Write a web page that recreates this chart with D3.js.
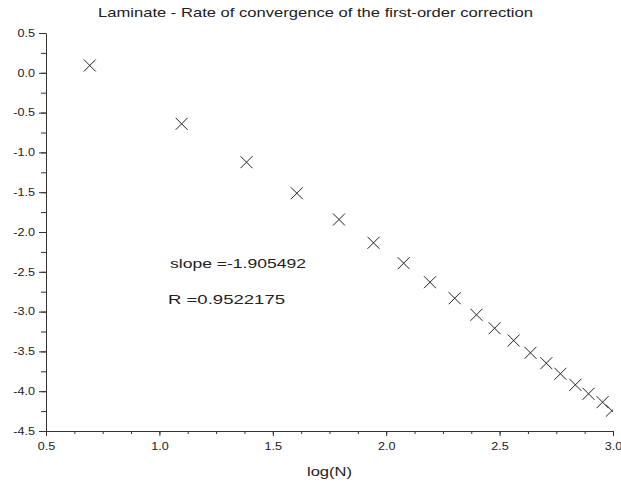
<!DOCTYPE html>
<html>
<head>
<meta charset="utf-8">
<script src="https://cdn.jsdelivr.net/npm/d3@7"></script>
<style>
  body { margin: 0; background: #fff; }
  svg { display: block; font-family: "Liberation Sans", Arial, sans-serif; }
</style>
</head>
<body>
<svg id="svg" width="621" height="483"></svg>
<script>
// log(N) vs log(error)
let logN = [0.693, 1.098, 1.384, 1.606, 1.792, 1.944, 2.077, 2.193, 2.302, 2.398,
            2.478, 2.562, 2.636, 2.706, 2.768, 2.834, 2.892, 2.954, 2.995];
let logErr = [0.092, -0.641, -1.123, -1.513, -1.843, -2.136, -2.392, -2.631, -2.832, -3.040,
              -3.209, -3.363, -3.518, -3.648, -3.781, -3.920, -4.033, -4.138, -4.245];
let xTicks = [0.5, 1.0, 1.5, 2.0, 2.5, 3.0];
let yTicks = [0.5, 0.0, -0.5, -1.0, -1.5, -2.0, -2.5, -3.0, -3.5, -4.0, -4.5];
let title = 'Laminate - Rate of convergence of the first-order correction';
let notes = ['slope =-1.905492', 'R =0.9522175'];

let svg = d3.select('#svg');
let m = { left: 46, right: 613, top: 33, bottom: 431 };
let axisColor = '#333';

let x = d3.scaleLinear().domain([0.5, 3.0]).range([m.left, m.right]);
let y = d3.scaleLinear().domain([-4.5, 0.5]).range([m.bottom, m.top]);

// minor ticks
let xMinor = d3.range(0, 21).map(i => 0.5 + i * 0.125);
let yMinor = d3.range(0, 21).map(i => -4.5 + i * 0.25);

svg.append('g')
    .attr('transform', `translate(0 ${m.bottom})`)
    .call(d3.axisBottom(x).tickValues(xMinor).tickSize(3).tickFormat(''))
    .call(g => g.select('.domain').remove())
    .selectAll('line').attr('stroke', axisColor);
svg.append('g')
    .attr('transform', `translate(${m.left} 0)`)
    .call(d3.axisLeft(y).tickValues(yMinor).tickSize(5).tickFormat(''))
    .call(g => g.select('.domain').remove())
    .selectAll('line').attr('stroke', axisColor);

// major ticks + labels
let xAxis = svg.append('g')
    .attr('transform', `translate(0 ${m.bottom})`)
    .call(d3.axisBottom(x).tickValues(xTicks).tickSize(5).tickSizeOuter(0).tickPadding(7).tickFormat(d3.format('.1f')));
let yAxis = svg.append('g')
    .attr('transform', `translate(${m.left} 0)`)
    .call(d3.axisLeft(y).tickValues(yTicks).tickSize(7).tickSizeOuter(0).tickPadding(4).tickFormat(d3.format('.1f')));
yAxis.selectAll('text').text(d => d3.format('.1f')(d).replace('−', '-'));
[xAxis, yAxis].forEach(a => {
    a.select('.domain').attr('stroke', axisColor);
    a.selectAll('line').attr('stroke', axisColor);
    a.selectAll('text').attr('fill', '#222').style('font-size', '10.5px')
        .style('font-family', '"Liberation Sans", Arial, sans-serif')
        .attr('textLength', function() { return this.getComputedTextLength() * 1.2; })
        .attr('lengthAdjust', 'spacingAndGlyphs');
});

// markers, clipped to plot box
svg.append('clipPath').attr('id', 'clip')
    .append('rect').attr('x', m.left).attr('y', m.top - 10).attr('width', m.right - m.left).attr('height', m.bottom - m.top + 10);
let r = 6;
let marks = svg.append('g').attr('clip-path', 'url(#clip)');
marks.selectAll('path')
    .data(logN.map((d, i) => [d, logErr[i]]))
    .join('path')
    .attr('d', d => {
        let cx = x(d[0]), cy = y(d[1]);
        return `M${cx - r},${cy - r}L${cx + r},${cy + r}M${cx - r},${cy + r}L${cx + r},${cy - r}`;
    })
    .attr('stroke', '#222')
    .attr('stroke-width', 1)
    .attr('fill', 'none');

// texts: reference font is wider than Arial, stretch glyphs to fit
function label(str, px, py, len, anchor) {
    return svg.append('text')
        .attr('x', px).attr('y', py)
        .attr('text-anchor', anchor || 'start')
        .attr('textLength', len)
        .attr('lengthAdjust', 'spacingAndGlyphs')
        .style('font-size', '13px')
        .attr('fill', '#222')
        .text(str);
}
label(title, 315.5, 17, 435, 'middle');
label('log(N)', (m.left + m.right) / 2, 476, 45, 'middle');
label(notes[0], 170, 268, 136);
label(notes[1], 168, 304, 117);
</script>
</body>
</html>
